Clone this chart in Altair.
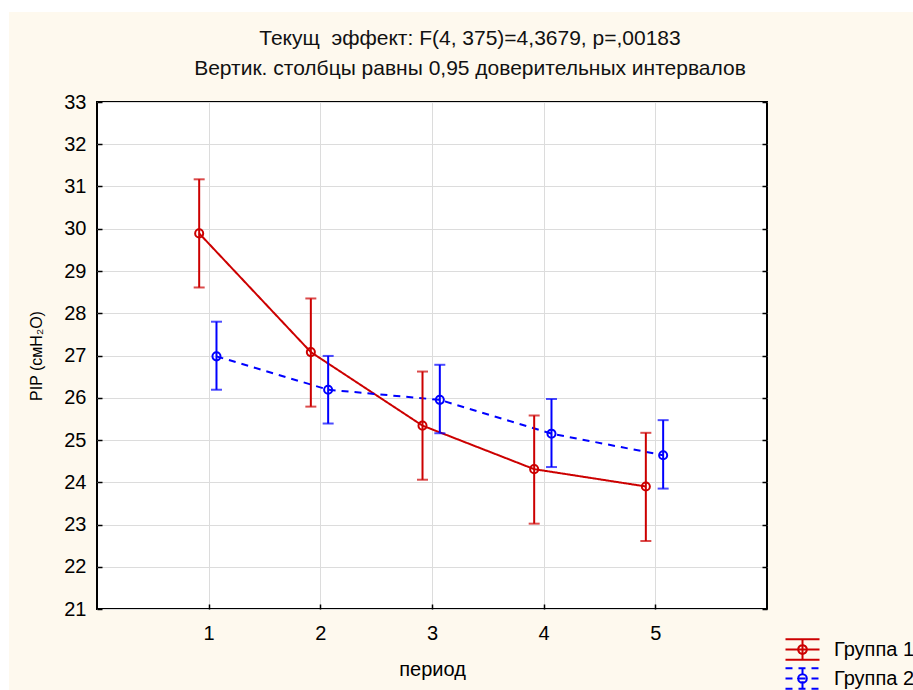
import altair as alt
import pandas as pd

periods = [1, 2, 3, 4, 5]
groups = ["Группа 1", "Группа 2"]
g1_mean = [29.89, 27.08, 25.34, 24.31, 23.90]
g1_low = [28.61, 25.79, 24.06, 23.02, 22.61]
g1_high = [31.17, 28.35, 26.62, 25.58, 25.17]
g2_mean = [26.98, 26.19, 25.95, 25.15, 24.64]
g2_low = [26.19, 25.39, 25.16, 24.36, 23.85]
g2_high = [27.80, 26.99, 26.78, 25.97, 25.47]
y_ticks = list(range(21, 34))

title_line1 = "Текущ\u00a0 эффект: F(4, 375)=4,3679, p=,00183"
title_line2 = "Вертик. столбцы равны 0,95 доверительных интервалов"
x_title = "период"
y_title = "PIP (смH\u2082O)"

RED = "#CC0000"
BLUE = "#0000FF"
FONT = "Liberation Sans"

rows = []
for g, m, lo, hi in [(groups[0], g1_mean, g1_low, g1_high), (groups[1], g2_mean, g2_low, g2_high)]:
    for p, a, b, c in zip(periods, m, lo, hi):
        rows.append({"period": p, "group": g, "mean": a, "low": b, "high": c})
df = pd.DataFrame(rows)

W, H = 670, 507

base = alt.Chart(df).transform_calculate(
    xpos="datum.period + (datum.group == '" + groups[0] + "' ? -0.085 : 0.07)"
)

x_enc = alt.X(
    "xpos:Q",
    scale=alt.Scale(domain=[0, 6], nice=False, zero=False),
    axis=alt.Axis(
        values=periods, format="d", title=x_title, grid=True, gridColor="#DCDCDC",
        domain=False, offset=-5, tickSize=5, tickColor="black", tickWidth=1.5,
        labelPadding=14, labelFont=FONT, labelFontSize=20, labelColor="black",
        titleFont=FONT, titleFontSize=20, titleFontWeight="normal", titleColor="black",
        titlePadding=16,
    ),
)
y_scale = alt.Scale(domain=[21, 33], nice=False, zero=False)
left_axis = alt.Axis(
    values=y_ticks, format="d", title=y_title, grid=True, gridColor="#DCDCDC",
    domain=False, offset=-5, tickSize=5, tickColor="black", tickWidth=1.5,
    labelPadding=11, labelFont=FONT, labelFontSize=20, labelColor="black",
    titleFont=FONT, titleFontSize=16, titleFontWeight="normal", titleColor="black",
    titlePadding=19,
)
right_axis = alt.Axis(
    values=y_ticks, title=None, grid=False, domain=False, labels=False,
    orient="right", offset=-5, tickSize=5, tickColor="black", tickWidth=1.5,
)

# legend glyph: caps, vertical bar, centre line and an open circle
# (circle drawn once clockwise and once counter-clockwise so it never fills)
sym_path = ("M-1.26,-0.76H1.26M-1.26,0.76H1.26M0,-0.76V0.76M-1.26,0H1.26"
            "M-0.32,0A0.32,0.32,0,1,1,0.32,0A0.32,0.32,0,1,1,-0.32,0"
            "M-0.32,0A0.32,0.32,0,1,0,0.32,0A0.32,0.32,0,1,0,-0.32,0")
legend = alt.Legend(
    title=None, orient="none", legendX=691, legendY=533,
    symbolType=sym_path, symbolSize=729, symbolStrokeWidth=2,
    symbolFillColor="transparent",
    labelFont=FONT, labelFontSize=20, labelColor="black", labelOffset=17,
    rowPadding=0,
)

def cscale():
    return alt.Scale(domain=groups, range=[RED, BLUE])

lines = base.mark_line(strokeWidth=2).encode(
    x=x_enc,
    y=alt.Y("mean:Q", scale=y_scale, axis=left_axis),
    stroke=alt.Stroke("group:N", scale=cscale(), legend=legend),
    strokeDash=alt.StrokeDash("group:N", scale=alt.Scale(domain=groups, range=[[1, 0], [7, 6]]), legend=legend),
)
points = base.mark_point(shape="circle", filled=False, size=65, strokeWidth=2, opacity=1).encode(
    x=x_enc, y=alt.Y("mean:Q", scale=y_scale, axis=None),
    color=alt.Color("group:N", scale=cscale(), legend=None),
)
rules = base.mark_rule(strokeWidth=2).encode(
    x=x_enc, y=alt.Y("low:Q", scale=y_scale, axis=right_axis), y2="high:Q",
    color=alt.Color("group:N", scale=cscale(), legend=None),
)
caps_lo = base.mark_tick(orient="horizontal", size=11, thickness=2).encode(
    x=x_enc, y=alt.Y("low:Q", scale=y_scale, axis=None),
    color=alt.Color("group:N", scale=cscale(), legend=None),
)
caps_hi = base.mark_tick(orient="horizontal", size=11, thickness=2).encode(
    x=x_enc, y=alt.Y("high:Q", scale=y_scale, axis=None),
    color=alt.Color("group:N", scale=cscale(), legend=None),
)

one = pd.DataFrame({"t1": [title_line1], "t2": [title_line2]})
strip_top = alt.Chart(one).mark_rect(color="white").encode(
    x=alt.value(-97), x2=alt.value(816), y=alt.value(-102), y2=alt.value(-90)
)
strip_left = alt.Chart(one).mark_rect(color="white").encode(
    x=alt.value(-97), x2=alt.value(-88), y=alt.value(-102), y2=alt.value(588)
)
t1 = alt.Chart(one).mark_text(font=FONT, fontSize=21, color="#111111", align="center", baseline="alphabetic").encode(
    text="t1:N", x=alt.value(373), y=alt.value(-57)
)
t2 = alt.Chart(one).mark_text(font=FONT, fontSize=21, color="#111111", align="center", baseline="alphabetic").encode(
    text="t2:N", x=alt.value(373), y=alt.value(-27)
)

chart = alt.layer(
    strip_top, strip_left, lines, rules, caps_lo, caps_hi, points, t1, t2
).resolve_axis(y="independent").properties(
    width=W, height=H,
    autosize=alt.AutoSizeParams(type="none"),
    padding={"left": 97, "top": 102, "right": 146, "bottom": 81},
    background="#FEF9EE",
).configure_view(
    fill="white", stroke="black", strokeWidth=2
)

chart.save("out.html", embed_options={"renderer": "svg", "actions": False})
